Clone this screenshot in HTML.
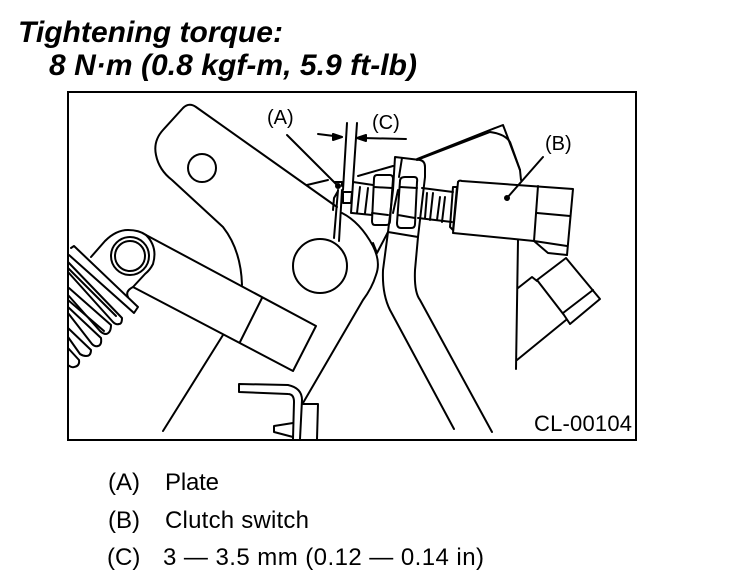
<!DOCTYPE html>
<html><head><meta charset="utf-8"><style>
html,body{margin:0;padding:0;background:#fff}
body{width:736px;height:584px;overflow:hidden}
svg{display:block}
text{font-family:"Liberation Sans",sans-serif;fill:#000}
.t{font-size:30px;font-weight:bold;font-style:italic}
.l{font-size:24px}
.d{font-size:20px}
</style></head><body>
<svg width="736" height="584" viewBox="0 0 736 584" xmlns="http://www.w3.org/2000/svg">
<rect width="736" height="584" fill="#fff"/>
<text class="t" x="18" y="42" textLength="265">Tightening torque:</text>
<text class="t" x="49" y="75" textLength="368">8 N·m (0.8 kgf-m, 5.9 ft-lb)</text>
<rect x="68" y="92" width="568" height="348" fill="#fff" stroke="#000" stroke-width="2"/>
<g fill="none" stroke="#000" stroke-width="2" stroke-linejoin="round" stroke-linecap="round">
<!-- plate -->
<path d="M337 207L196 107Q189 102 183 108L163 130Q153 141 156 155Q159 170 172 180L223 227Q241 250 242 285"/>
<circle cx="202" cy="168" r="14"/>
<circle cx="320" cy="266" r="27"/>
<path d="M342 213Q360 222 373 246Q381 262 376 275Q372 288 363 300L303 403"/>
<!-- arm -->
<path d="M91 257L105 241Q116 230 128 230Q139 230 146 235L316 326L293 371L133 287Q125 291 128 297"/>
<path d="M146 235Q158 247 153 264Q150 270 145 274L133 287"/>
<path d="M262 298L240 342"/>
<circle cx="130" cy="256" r="19"/>
<circle cx="130" cy="256" r="15"/>
<path d="M223 335L163 431"/>
<!-- spring -->
<path d="M69 255L134 313L138 307L74 246L71 248"/>
<path d="M68 262L122 318Q122 324 119 324Q116 325 113 322L68 272"/>
<path d="M69 288L111 325Q111 333 106 334Q103 334 100 331L68 295"/>
<path d="M68 307L101 338Q102 345 98 346Q95 347 92 344L68 313"/>
<path d="M68 328L91 350Q91 356 86 356Q83 356 80 354L68 337"/>
<path d="M68 348L79 360Q80 366 74 367Q72 368 68 365"/>
<path d="M68 268L116 316M68 300L104 331"/>
<!-- lower clip -->
<path d="M239 384L288 385Q302 388 302 400L300 439M239 384V392L288 394Q294 394 294 402L293 439"/>
<path d="M303 404H318L317 439"/>
<path d="M293 423L274 426V432L293 437"/>
<!-- right arm -->
<path d="M388 232L383 270Q382 294 390 310L454 429"/>
<path d="M418 237L415 270Q414 292 420 300L492 432"/>
<path d="M373 243L377 253L388 232"/>
<!-- switch plate and dim -->
<path d="M347 123L343 190"/>
<path d="M357 123L353 182"/>
<path d="M338 190L334 238M342 190L339 241M333 210L334 198L338 191"/>
<path d="M343 192H352L351 203H343Z"/>
<path d="M287 135L337 185"/>
<path d="M307 185L328 180"/>
<path d="M335 182H342V186"/>
<circle cx="338" cy="186" r="2" fill="#000"/>
<path d="M318 134L342 137"/>
<path d="M406 139L362 138"/>
<path d="M342 137L333 134V140Z" fill="#000"/>
<path d="M357 138L366 135V141Z" fill="#000"/>
<!-- bolt -->
<path d="M353 182L373 185M352 213L372 215"/>
<path d="M353 183L351 213M360 187L357 213M368 188L365 213"/>
<path d="M358 176L393 166"/>
<path d="M377 175H390Q393 175 393 179L390 221Q390 225 386 225H375Q372 225 372 221L374 179Q374 175 377 175Z"/>
<path d="M374 187L392 188M372 213L388 215"/>
<path d="M395 157L420 160Q425 161 425 167L425 177L418 237L388 232L393 190Z"/>
<path d="M402 158L399 177"/>
<path d="M405 177H414Q418 177 417 182L415 224Q415 228 411 228H401Q397 228 397 223L400 181Q400 177 405 177Z"/>
<path d="M400 187L417 188M398 215L415 218"/>
<path d="M398 190L393 213"/>
<path d="M422 188L453 192M418 218L452 222"/>
<path d="M427 193L425 218M433 193L430 220M440 197L437 220M445 197L442 222"/>
<!-- flange & body -->
<path d="M453 187H457L453 230L450 227Z"/>
<path d="M458 182Q459 180 462 181L573 189L567 255"/>
<path d="M458 182L453 233L534 241L567 246"/>
<path d="M538 186L534 241"/>
<path d="M537 213L570 216"/>
<path d="M534 241L548 253L567 255"/>
<path d="M543 157L507 198"/>
<circle cx="507" cy="198" r="2" fill="#000"/>
<!-- wire -->
<path d="M417 159L490 130L503 125L520 170L521 180" />
<path d="M417 160L490 132Q505 134 510 142L520 170"/>
<path d="M419 159L495 128" stroke-width="1.5"/>
<!-- connector -->
<path d="M566 258L600 299L570 324L564 315L537 280L566 258"/>
<path d="M593 290L563 313"/>
<path d="M518 288L532 277L537 281"/>
<path d="M566 320L517 360"/>
<path d="M518 240L516 369"/>
</g>
<text class="d" x="267" y="124">(A)</text>
<text class="d" x="372" y="129">(C)</text>
<text class="d" x="545" y="150">(B)</text>
<text x="534" y="431" style="font-size:22px" textLength="98">CL-00104</text>
<text class="l" x="108" y="490">(A)</text><text class="l" x="165" y="490" textLength="54">Plate</text>
<text class="l" x="108" y="528">(B)</text><text class="l" x="165" y="528" textLength="144">Clutch switch</text>
<text class="l" x="107" y="565">(C)</text><text class="l" x="163" y="565" textLength="321">3 — 3.5 mm (0.12 — 0.14 in)</text>
</svg>
</body></html>
